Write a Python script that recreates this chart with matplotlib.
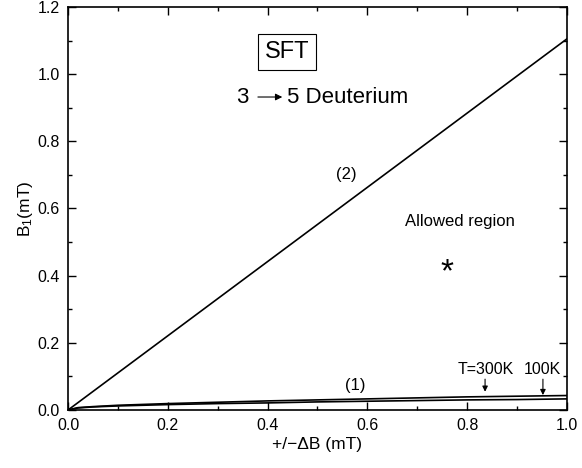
import numpy as np
import matplotlib
matplotlib.use("Agg")
import matplotlib.pyplot as plt
from matplotlib.ticker import MultipleLocator

plt.rcParams['font.family'] = ['Liberation Sans', 'DejaVu Sans']
plt.rcParams['mathtext.fontset'] = 'custom'
plt.rcParams['mathtext.rm'] = 'Liberation Sans'
plt.rcParams['mathtext.it'] = 'Liberation Sans:italic'

# line (2): straight boundary
x2 = [0.0, 1.0]
y2 = [0.0, 1.105]

# line (1): two temperatures
x1 = [0.0, 0.02, 0.05, 0.1, 0.2, 0.3, 0.4, 0.5, 0.6, 0.7, 0.8, 0.9, 1.0]
y1_300K = [0.0, 0.007, 0.010, 0.014, 0.019, 0.023, 0.027, 0.030, 0.033, 0.036, 0.039, 0.041, 0.043]
y1_100K = [0.0, 0.006, 0.009, 0.012, 0.016, 0.019, 0.021, 0.024, 0.026, 0.028, 0.030, 0.031, 0.033]

fig = plt.figure(figsize=(5.82, 4.68), dpi=100)
ax = fig.add_axes([0.117, 0.124, 0.857, 0.861])

ax.plot(x2, y2, color='black', lw=1.2)
ax.plot(x1, y1_300K, color='black', lw=1.2)
ax.plot(x1, y1_100K, color='black', lw=1.2)

ax.set_xlim(0, 1.0)
ax.set_ylim(0, 1.2)
ax.xaxis.set_major_locator(MultipleLocator(0.2))
ax.xaxis.set_minor_locator(MultipleLocator(0.1))
ax.yaxis.set_major_locator(MultipleLocator(0.2))
ax.yaxis.set_minor_locator(MultipleLocator(0.1))
ax.xaxis.set_major_formatter(plt.FormatStrFormatter('%.1f'))
ax.yaxis.set_major_formatter(plt.FormatStrFormatter('%.1f'))
ax.tick_params(which='both', direction='in', top=True, right=True, labelsize=11.5, pad=6)
ax.tick_params(which='major', length=6, width=1)
ax.tick_params(which='minor', length=3, width=1)
for s in ax.spines.values():
    s.set_linewidth(1.2)

ax.set_xlabel('+/\u2212\u0394B (mT)', fontsize=12.5, labelpad=3)
ax.set_ylabel(r'B$_{\rm 1}$(mT)', fontsize=12.5, labelpad=2)

ax.text(0.439, 1.066, 'SFT', fontsize=17, ha='center', va='center',
        bbox=dict(boxstyle='square,pad=0.3', fc='white', ec='black', lw=0.8))
ax.text(0.35, 0.932, '3', fontsize=16, ha='center', va='center')
ax.annotate('', xy=(0.435, 0.932), xytext=(0.375, 0.932),
            arrowprops=dict(arrowstyle='-|>', color='black', lw=0.8, mutation_scale=10))
ax.text(0.438, 0.932, '5 Deuterium', fontsize=16, ha='left', va='center')
ax.text(0.557, 0.70, '(2)', fontsize=12, ha='center', va='center')
ax.text(0.785, 0.56, 'Allowed region', fontsize=12, ha='center', va='center')
ax.text(0.76, 0.41, '*', fontsize=24, ha='center', va='center')
ax.text(0.575, 0.072, '(1)', fontsize=12, ha='center', va='center')
ax.text(0.838, 0.12, 'T=300K', fontsize=11.5, ha='center', va='center')
ax.annotate('', xy=(0.836, 0.046), xytext=(0.836, 0.1),
            arrowprops=dict(arrowstyle='-|>', color='black', lw=0.8, mutation_scale=8))
ax.text(0.95, 0.12, '100K', fontsize=11.5, ha='center', va='center')
ax.annotate('', xy=(0.952, 0.036), xytext=(0.952, 0.1),
            arrowprops=dict(arrowstyle='-|>', color='black', lw=0.8, mutation_scale=8))

fig.savefig('out.png', dpi=100)
